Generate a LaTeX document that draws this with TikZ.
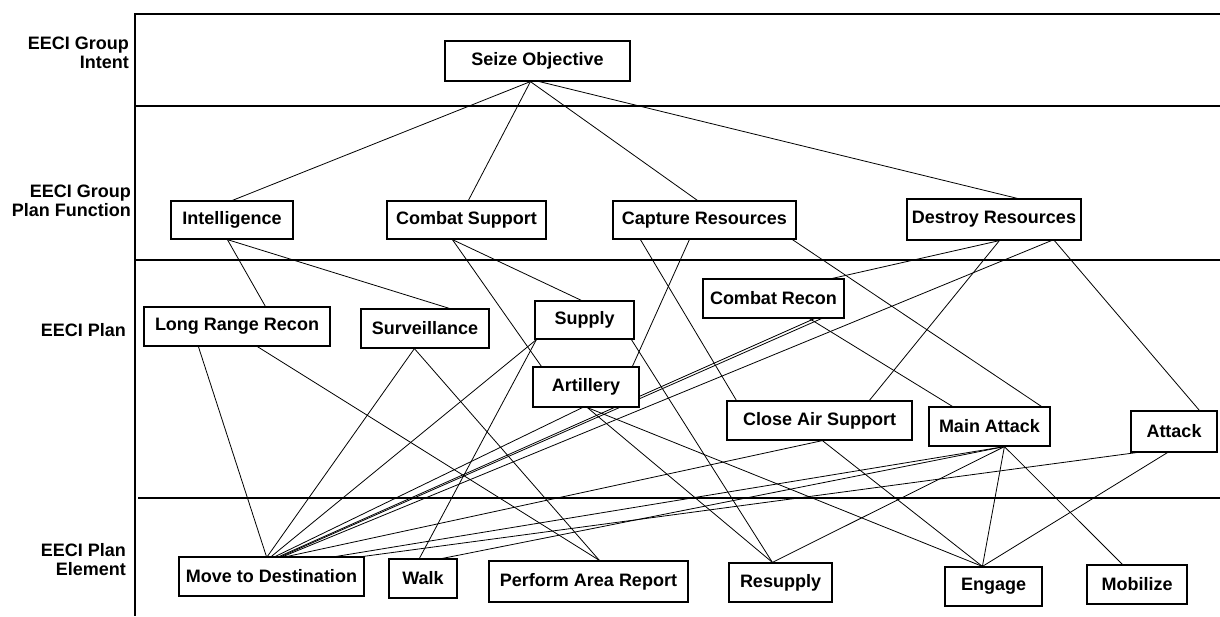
\documentclass[tikz,border=0pt]{standalone}
\usepackage{fontspec}
\setmainfont{Liberation Sans}
\usetikzlibrary{backgrounds}
\newcommand\mkbox[6]{%
  \pgfmathsetmacro\mkbw{#4-#2}\pgfmathsetmacro\mkbh{#5-#3}%
  \node[box,minimum width=\mkbw pt,minimum height=\mkbh pt] (#1) at ({(#2+#4)/2},{(#3+#5)/2}) {#6};}
\newcommand\edge[4]{\draw[conn] ([xshift=#2pt]#1.south west) -- ([xshift=#4pt]#3.north west);}
\begin{document}
\begin{tikzpicture}[x=1pt,y=-1pt,
  box/.style={draw,fill=white,line width=1.2pt,inner sep=0pt,font=\fontsize{18}{20}\selectfont\bfseries},
  conn/.style={line width=0.8pt},
  frame/.style={line width=2.6pt},
  lab/.style={align=right,anchor=east,inner sep=0pt,font=\fontsize{18}{19}\selectfont\bfseries}]
\useasboundingbox (0,0) rectangle (1220,616);
% level labels
\node[lab] (l1) at (129,53) {EECI Group\\Intent};
\node[lab] (l2) at (131,201) {EECI Group\\Plan Function};
\node[lab] (l3) at (126,330) {EECI Plan};
\node[lab] (l4) at (126,560) {EECI Plan\\Element};
% boxes
\mkbox{seize}{445}{41}{630}{81}{Seize Objective}
\mkbox{intel}{171}{201}{293}{239}{Intelligence}
\mkbox{csup}{387}{201}{546}{239}{Combat Support}
\mkbox{capt}{613}{201}{796}{239}{Capture Resources}
\mkbox{destr}{907}{199}{1081}{240}{Destroy Resources}
\mkbox{lrr}{144}{307}{330}{346}{Long Range Recon}
\mkbox{surv}{361}{309}{489}{348}{Surveillance}
\mkbox{supply}{535}{301}{634}{339}{Supply}
\mkbox{art}{533}{367}{639}{407}{Artillery}
\mkbox{crec}{703}{279}{844}{318}{Combat Recon}
\mkbox{cas}{727}{401}{912}{440}{Close Air Support}
\mkbox{matt}{929}{407}{1050}{446}{Main Attack}
\mkbox{att}{1131}{411}{1217}{452}{Attack}
\mkbox{mtd}{179}{557}{364}{596}{Move to Destination}
\mkbox{walk}{389}{559}{457}{598}{Walk}
\mkbox{par}{489}{561}{688}{602}{Perform Area Report}
\mkbox{resup}{729}{563}{832}{602}{Resupply}
\mkbox{eng}{945}{567}{1042}{606}{Engage}
\mkbox{mob}{1087}{565}{1187}{604}{Mobilize}
\begin{scope}[on background layer]
\draw[frame] (135,14) -- (1220,14);
\draw[frame] (135,106) -- (1220,106);
\draw[frame] (135,260) -- (1220,260);
\draw[frame] (138,498) -- (1220,498);
\draw[line width=2pt] (135,13) -- (135,616);
% intent -> functions
\edge{seize}{86}{intel}{62}
\edge{seize}{86}{csup}{82}
\edge{seize}{86}{capt}{85}
\edge{seize}{95}{destr}{111}
% functions -> plans
\edge{intel}{57}{lrr}{122}
\edge{intel}{57}{surv}{89}
\edge{csup}{66}{supply}{47}
\edge{csup}{66}{art}{9}
\edge{capt}{28}{cas}{10}
\edge{capt}{77}{art}{100}
\edge{capt}{180}{matt}{113}
\edge{destr}{93}{crec}{130}
\edge{destr}{93}{cas}{143}
\edge{destr}{148}{att}{69}
\edge{destr}{145}{mtd}{105}
% plans -> elements
\edge{lrr}{55}{mtd}{88}
\edge{lrr}{114}{par}{111}
\edge{surv}{54}{mtd}{89}
\edge{surv}{54}{par}{111}
\edge{supply}{2}{mtd}{93}
\edge{supply}{2}{walk}{31}
\edge{supply}{97}{resup}{44}
\edge{art}{50}{mtd}{97}
\edge{art}{55}{resup}{44}
\edge{art}{55}{eng}{38}
\edge{crec}{112}{mtd}{101}
\edge{crec}{119}{mtd}{103}
\edge{crec}{107}{matt}{24}
\edge{cas}{96}{mtd}{109}
\edge{cas}{96}{eng}{38}
\edge{matt}{76}{mtd}{158}
\edge{matt}{76}{walk}{54}
\edge{matt}{76}{resup}{44}
\edge{matt}{76}{eng}{38}
\edge{matt}{76}{mob}{36}
\edge{att}{6}{mtd}{185}
\edge{att}{37}{eng}{38}
\end{scope}
\end{tikzpicture}
\end{document}
